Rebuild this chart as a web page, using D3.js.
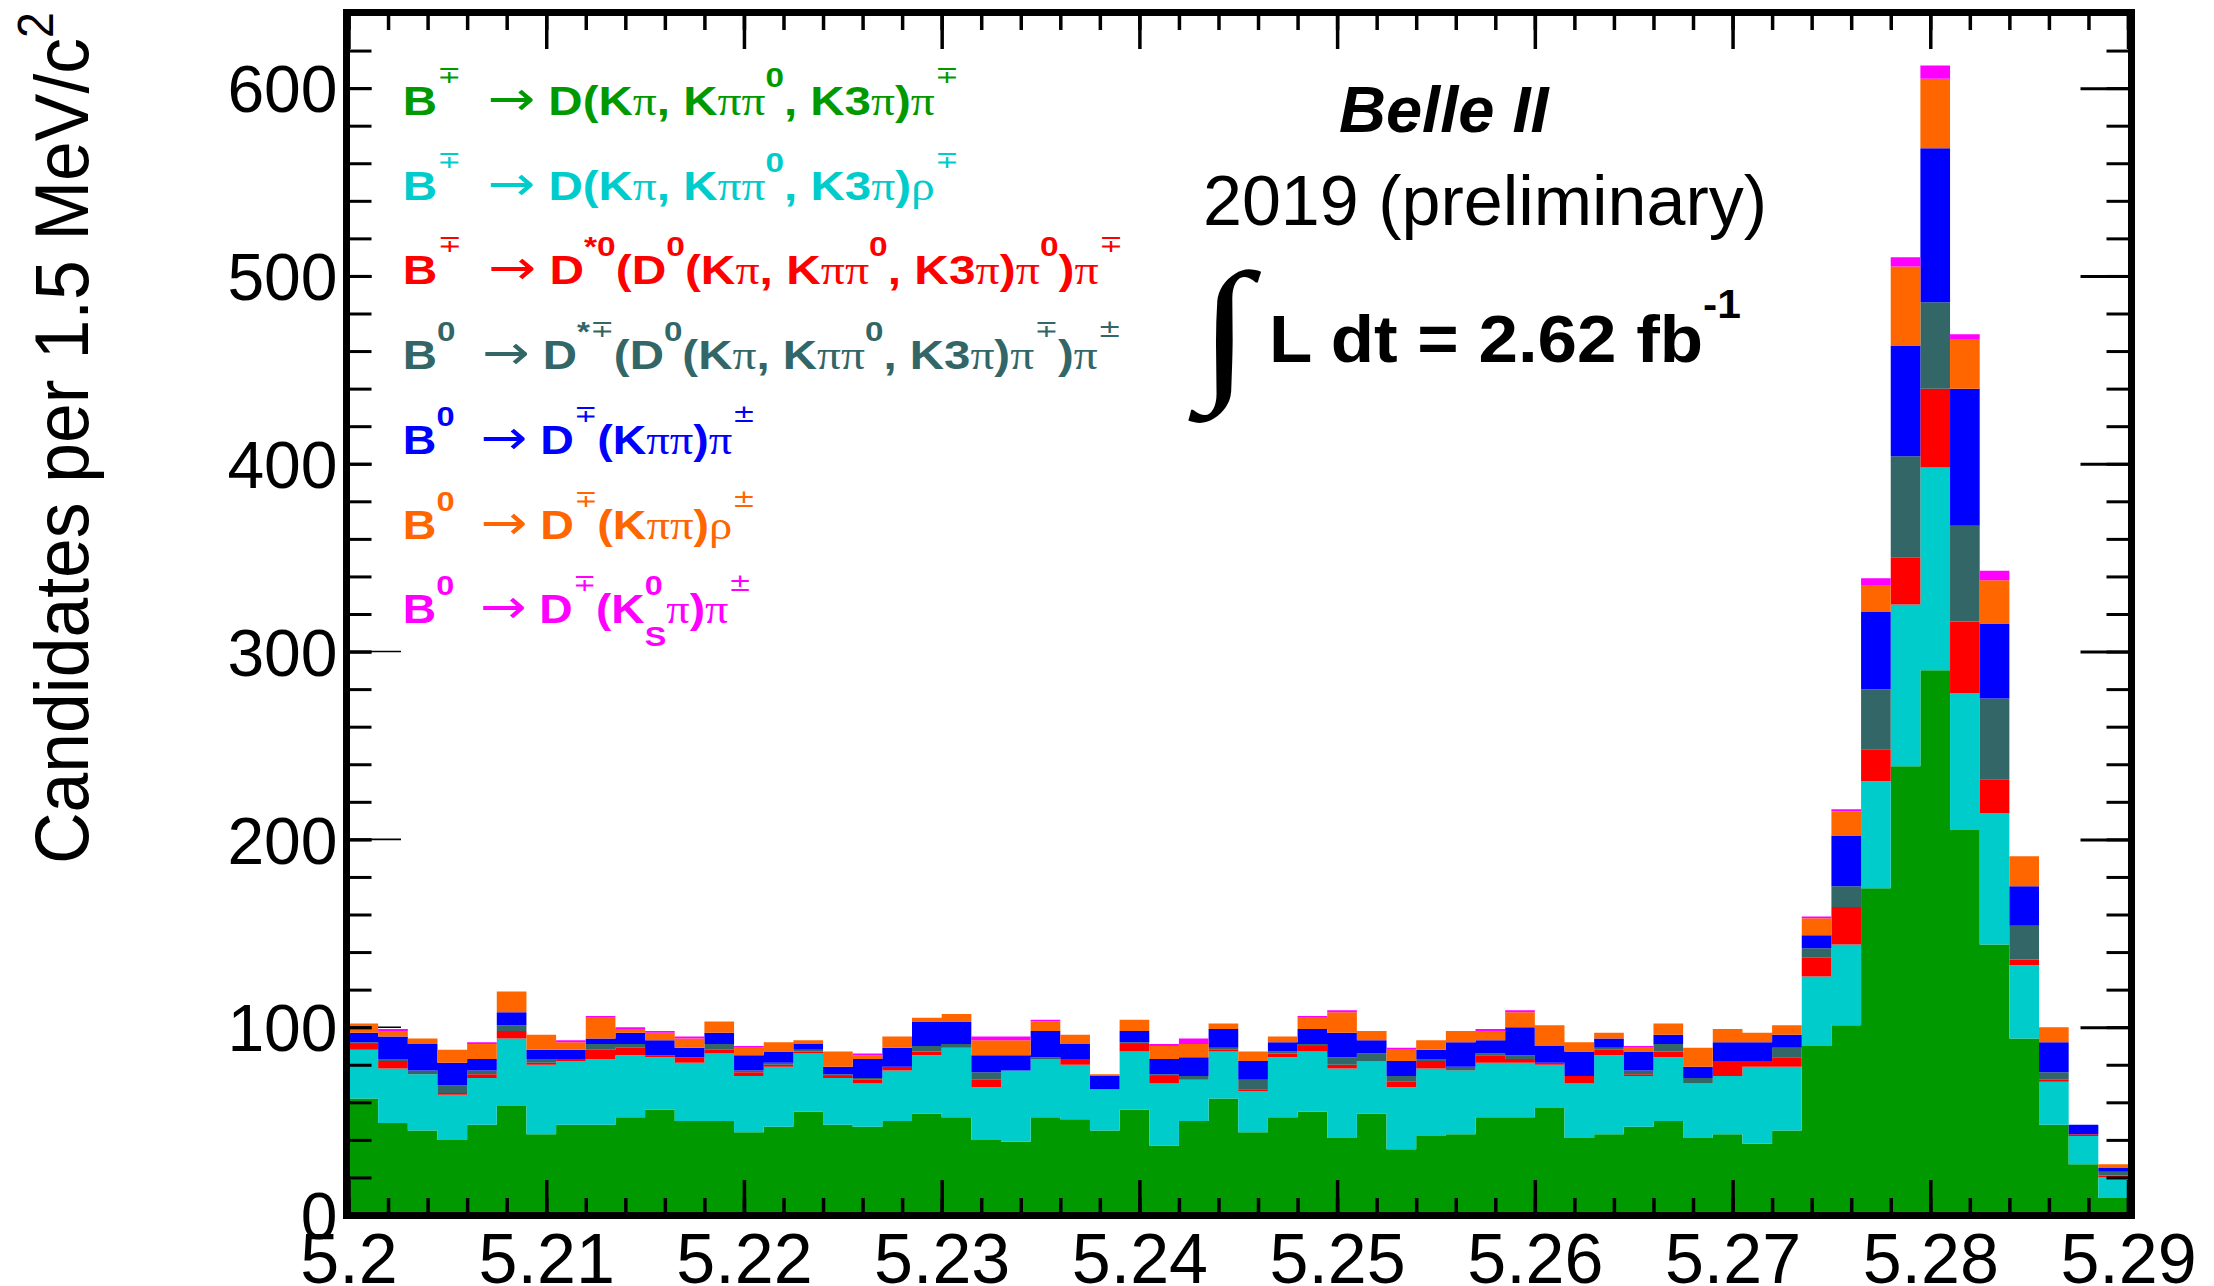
<!DOCTYPE html>
<html>
<head>
<meta charset="utf-8">
<script src="https://cdn.jsdelivr.net/npm/d3@7"></script>
<style>
  html, body { margin: 0; padding: 0; background: #fff; }
  svg { display: block; }
</style>
</head>
<body>
<svg id="chart" width="2214" height="1286"></svg>
<script>
// ---- Binning: 60 bins of 1.5 MeV/c^2 in M_bc from 5.20 to 5.29 GeV/c^2 ----
const mbcMin = 5.20, mbcMax = 5.29, binWidth = 0.0015;
const binLowEdges = d3.range(60).map(i => +(mbcMin + i * binWidth).toFixed(4));

// ---- Candidates per bin, one array per decay channel (stacked bottom to top) ----
const countsBpDpi = [62,49,45,40,48,58,43,48,48,52, 56,50,50,44,47,55,48,47,50,54,
  52,40,39,52,51,45,56,37,50,62, 44,52,55,41,54,35,42,43,52,52,
  57,41,43,47,50,41,43,38,45,90, 101,174,239,290,205,144,94,48,27,9];
const countsBpDrho = [26,29,30,24,25,36,37,34,35,33, 28,31,36,30,32,31,25,23,27,31,
  37,28,38,31,29,22,31,33,22,25, 22,32,32,37,28,33,36,34,29,29,
  23,29,42,27,34,29,31,41,34,37, 43,57,86,108,73,70,39,23,15,11];
const countsBpDstar0pi = [3,4,0,1,2,4,1,1,5,4, 1,3,2,2,1,1,1,2,2,2,
  0,4,0,0,3,0,4,4,0,1, 1,2,3,2,0,3,4,0,4,2,
  1,4,3,1,3,0,8,3,5,10, 20,17,25,42,38,18,3,1,1,1];
const countsB0Dstarpi = [1,1,2,4,2,3,2,0,3,2, 0,0,3,1,1,1,1,1,0,3,
  2,4,0,1,0,0,1,1,2,1, 5,1,1,4,4,3,1,2,1,2,
  0,0,1,2,4,3,0,0,5,5, 11,32,54,46,51,43,18,4,0,2];
const countsB0Dpi = [5,12,14,12,6,7,5,5,3,6, 8,5,6,8,6,3,4,10,10,13,
  12,9,8,14,8,7,6,8,10,10, 10,5,8,13,7,8,5,13,7,15,
  9,13,5,10,5,6,10,10,7,7, 27,41,59,82,73,40,21,16,5,2];
const countsB0Drho = [5,3,3,7,8,11,8,4,11,2, 4,5,6,4,5,2,8,2,6,2,
  4,8,8,5,5,1,6,7,7,3, 5,3,6,11,5,6,5,6,5,8,
  11,5,3,2,6,10,7,5,5,9, 13,14,42,37,26,23,16,8,0,2];
const countsB0DKspi = [0,1,0,0,1,0,0,1,1,1, 1,1,0,1,0,0,0,1,0,0,
  0,2,2,1,0,0,0,1,3,0, 0,0,1,1,0,1,0,0,1,1,
  0,0,0,1,0,0,0,0,0,1, 1,4,5,7,3,5,0,0,0,0];

// ---- Axis ticks and labels ----
const massMajorTicks = [5.20, 5.21, 5.22, 5.23, 5.24, 5.25, 5.26, 5.27, 5.28, 5.29];
const massMinorTicks = d3.range(0, 46).map(i => +(mbcMin + i * 0.002).toFixed(3));
const countMajorTicks = [0, 100, 200, 300, 400, 500, 600];
const countMinorTicks = d3.range(0, 621, 20);
const yTitle = "Candidates per 1.5 MeV/c^{2}";

// ---- Channel keys, colours and legend labels ----
const channelKeys = ["BpDpi", "BpDrho", "BpDstar0pi", "B0Dstarpi", "B0Dpi", "B0Drho", "B0DKspi"];
const channelColors = ["#009900", "#00cccc", "#ff0000", "#336666", "#0000ff", "#ff6600", "#ff00ff"];
const channelLabels = [
  "B^{∓}  → D(Kπ, Kππ^{0}, K3π)π^{∓}",
  "B^{∓}  → D(Kπ, Kππ^{0}, K3π)ρ^{∓}",
  "B^{∓}  → D^{*0}(D^{0}(Kπ, Kππ^{0}, K3π)π^{0})π^{∓}",
  "B^{0}  → D^{*∓}(D^{0}(Kπ, Kππ^{0}, K3π)π^{∓})π^{±}",
  "B^{0}  → D^{∓}(Kππ)π^{±}",
  "B^{0}  → D^{∓}(Kππ)ρ^{±}",
  "B^{0}  → D^{∓}(K^{0}_{S}π)π^{±}"
];
const channelCounts = [countsBpDpi, countsBpDrho, countsBpDstar0pi, countsB0Dstarpi,
  countsB0Dpi, countsB0Drho, countsB0DKspi];

// ---- Layout ----
const plotLeft = 348.5, plotRight = 2128, plotTop = 13, plotBottom = 1215;
const sansFamily = '"Liberation Sans", Arial, Helvetica, sans-serif';
const symFamily = '"Liberation Serif", "Times New Roman", "DejaVu Serif", serif';
const arrowFamily = '"DejaVu Sans", sans-serif';

const svg = d3.select("#chart");
svg.append("rect").attr("width", 2214).attr("height", 1286).attr("fill", "#fff");

const x = d3.scaleLinear().domain([mbcMin, mbcMax]).range([plotLeft, plotRight]);
const y = d3.scaleLinear().domain([0, 640]).range([plotBottom, plotTop]);

// Thin long extensions of the major count ticks (partly hidden by the legend pad)
svg.append("g").selectAll("line").data(countMajorTicks).join("line")
  .attr("x1", 350).attr("x2", 401)
  .attr("y1", d => y(d)).attr("y2", d => y(d))
  .attr("stroke", "#000").attr("stroke-width", 1.6);

// ---- Stacked histogram ----
const rows = binLowEdges.map((m, i) => {
  const r = { mbc: m };
  channelKeys.forEach((k, j) => { r[k] = channelCounts[j][i]; });
  return r;
});
const stacked = d3.stack().keys(channelKeys)(rows);

const stepArea = d3.area()
  .x(p => x(p.m))
  .y0(p => y(p.lo))
  .y1(p => y(p.hi))
  .curve(d3.curveStepAfter);

svg.append("g").selectAll("path").data(stacked).join("path")
  .attr("fill", (s, i) => channelColors[i])
  .attr("d", s => {
    const pts = s.map(d => ({ m: d.data.mbc, lo: d[0], hi: d[1] }));
    const last = s[s.length - 1];
    pts.push({ m: mbcMax, lo: last[0], hi: last[1] });
    return stepArea(pts);
  });

// Legend pad (white, no border)
svg.append("rect").attr("x", 351).attr("y", 30).attr("width", 780).attr("height", 612).attr("fill", "#fff");

// ---- Frame ----
svg.append("rect")
  .attr("x", 346.5).attr("y", 12.5)
  .attr("width", 2131.5 - 346.5).attr("height", 1215.5 - 12.5)
  .attr("fill", "none").attr("stroke", "#000").attr("stroke-width", 7);

// ---- Axes (ticks drawn inward, ROOT style) ----
function styleAxis(g, width) {
  g.select(".domain").remove();
  g.selectAll(".tick line").attr("stroke", "#000").attr("stroke-width", width);
}

// bottom
svg.append("g").attr("transform", `translate(0,${plotBottom})`)
  .call(d3.axisBottom(x).tickValues(massMinorTicks).tickSize(-17).tickFormat(""))
  .call(g => styleAxis(g, 3.5));
const xAxisG = svg.append("g").attr("transform", `translate(0,${plotBottom})`)
  .call(d3.axisBottom(x).tickValues(massMajorTicks).tickSize(-35).tickPadding(18)
    .tickFormat(d3.format(".3~g")))
  .call(g => styleAxis(g, 3.5));
xAxisG.selectAll(".tick text")
  .attr("font-family", sansFamily).attr("font-size", 70).attr("fill", "#000");

// top
svg.append("g").attr("transform", `translate(0,${plotTop})`)
  .call(d3.axisTop(x).tickValues(massMinorTicks).tickSize(-17).tickFormat(""))
  .call(g => styleAxis(g, 3.5));
svg.append("g").attr("transform", `translate(0,${plotTop})`)
  .call(d3.axisTop(x).tickValues(massMajorTicks).tickSize(-36).tickFormat(""))
  .call(g => styleAxis(g, 3.5));

// left
svg.append("g").attr("transform", "translate(346.5,0)")
  .call(d3.axisLeft(y).tickValues(countMinorTicks).tickSize(-25).tickFormat(""))
  .call(g => styleAxis(g, 3));
const yLabG = svg.append("g").attr("transform", "translate(346.5,0)")
  .call(d3.axisLeft(y).tickValues(countMajorTicks).tickSize(-25).tickPadding(9))
  .call(g => styleAxis(g, 3));
yLabG.selectAll(".tick text")
  .attr("font-family", sansFamily).attr("font-size", 66).attr("fill", "#000")
  .attr("dy", "0.36em");

// right
svg.append("g").attr("transform", "translate(2131.5,0)")
  .call(d3.axisRight(y).tickValues(countMinorTicks).tickSize(-25).tickFormat(""))
  .call(g => styleAxis(g, 3));
svg.append("g").attr("transform", "translate(2131.5,0)")
  .call(d3.axisRight(y).tickValues(countMajorTicks).tickSize(-51).tickFormat(""))
  .call(g => styleAxis(g, 3));

// ---- Minimal TLatex-like text: ^{..} superscripts, _{..} subscripts, serif greek ----
function drawLatex(parent, src, size, opt) {
  const o = Object.assign({ weight: "bold", scriptScale: 0.7, supRaise: 0.7, subDrop: 0.58,
    signScale: 0.6, signRaise: 0.8, fill: "#000" }, opt || {});
  const text = parent.append("text")
    .attr("font-family", sansFamily).attr("font-weight", o.weight)
    .attr("font-size", size).attr("fill", o.fill)
    .style("white-space", "pre");
  const tokens = src.split(/(\^\{[^}]*\}|_\{[^}]*\})/).filter(t => t.length);
  let shift = 0, prev = null;
  tokens.forEach(tok => {
    let mode = "base", body = tok;
    if (tok.startsWith("^{")) { mode = "sup"; body = tok.slice(2, -1); }
    else if (tok.startsWith("_{")) { mode = "sub"; body = tok.slice(2, -1); }
    const runs = body.match(/[πρ]+|→|[∓±]+|[^πρ→∓±]+/g) || [];
    let width = 0;
    runs.forEach((run, k) => {
      let off = mode === "sup" ? -o.supRaise * size : mode === "sub" ? o.subDrop * size : 0;
      let fs = mode === "base" ? size : o.scriptScale * size;
      const ts = text.append("tspan").text(run);
      if (/[πρ]/.test(run)) {
        ts.attr("font-family", symFamily).attr("font-weight", "normal");
      } else if (run === "→") {
        fs = size * 1.2;
        ts.attr("font-family", arrowFamily).attr("font-weight", "normal");
      } else if (/[∓±]/.test(run) && mode === "sup") {
        fs = size * o.signScale;
        off = -o.signRaise * size;
        ts.attr("font-family", arrowFamily).attr("font-weight", "normal");
      }
      ts.attr("font-size", fs).attr("dy", off - shift);
      shift = off;
      if (k === 0 && prev && mode !== "base" && prev.mode !== "base" && prev.mode !== mode) {
        ts.attr("dx", -prev.width);
      }
      width += ts.node().getComputedTextLength();
    });
    prev = { mode, width };
  });
  return text;
}

// Fit a text horizontally to a target width, anchored at (x0, baseline)
function placeFitted(g, text, x0, yb, targetWidth) {
  const bw = text.node().getBBox().width;
  const sx = targetWidth / bw;
  g.attr("transform", `translate(${x0},${yb}) scale(${sx},1)`);
}

// ---- Legend ----
const legendX = 402.8, legendTop = 115, legendStep = 84.7;
const legendWidths = [556, 556, 720, 719, 353, 353, 349];
channelLabels.forEach((lab, i) => {
  const g = svg.append("g");
  const t = drawLatex(g, lab, 40, { fill: channelColors[i] });
  placeFitted(g, t, legendX, legendTop + i * legendStep, legendWidths[i]);
});

// ---- Experiment label ----
svg.append("text").attr("x", 1339).attr("y", 131.7)
  .attr("font-family", sansFamily).attr("font-weight", "bold").attr("font-style", "italic")
  .attr("font-size", 65).attr("fill", "#000").text("Belle II");
svg.append("text").attr("x", 1203).attr("y", 225)
  .attr("font-family", sansFamily).attr("font-size", 70).attr("fill", "#000")
  .text("2019 (preliminary)");

// Integral sign, sized on its ink box
(function () {
  const ctx = document.createElement("canvas").getContext("2d");
  const ref = 100;
  ctx.font = `${ref}px ${symFamily}`;
  const m = ctx.measureText("∫");
  const inkH = m.actualBoundingBoxAscent + m.actualBoundingBoxDescent;
  const fs = ref * 155 / inkH;
  const k = fs / ref;
  const inkW = (m.actualBoundingBoxLeft + m.actualBoundingBoxRight) * k;
  const sx = inkW > 0 ? 75 / inkW : 1;
  const ox = 1187 + m.actualBoundingBoxLeft * k * sx;
  const oy = 423 - m.actualBoundingBoxDescent * k;
  svg.append("text")
    .attr("transform", `translate(${ox},${oy}) scale(${sx},1)`)
    .attr("font-family", symFamily).attr("font-size", fs).attr("fill", "#000")
    .text("∫");
})();

const lumiG = svg.append("g");
const lumiT = drawLatex(lumiG, "L dt = 2.62 fb^{-1}", 67, { scriptScale: 0.6, supRaise: 0.66 });
placeFitted(lumiG, lumiT, 1269, 362, 472);

// ---- Y axis title (rotated) ----
const titleG = svg.append("g");
const titleT = drawLatex(titleG, yTitle, 76, { weight: "normal", scriptScale: 0.65, supRaise: 0.46 });
(function () {
  const bw = titleT.node().getBBox().width;
  const sx = 852 / bw;
  titleG.attr("transform", `translate(88,864) rotate(-90) scale(${sx},1)`);
})();
</script>
</body>
</html>
